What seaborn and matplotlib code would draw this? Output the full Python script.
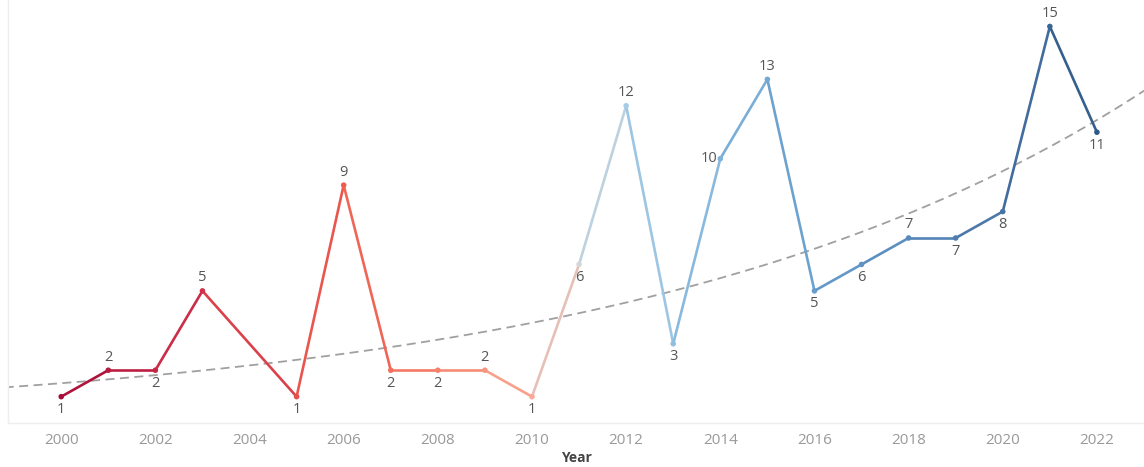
import numpy as np
import pandas as pd
import matplotlib
matplotlib.use("Agg")
import matplotlib.pyplot as plt
from matplotlib.colors import LinearSegmentedColormap
import seaborn as sns

# Data (2004 has no value)
YEARS = [2000, 2001, 2002, 2003, 2005, 2006, 2007, 2008, 2009, 2010, 2011,
         2012, 2013, 2014, 2015, 2016, 2017, 2018, 2019, 2020, 2021, 2022]
COUNTS = [1, 2, 2, 5, 1, 9, 2, 2, 2, 1, 6,
          12, 3, 10, 13, 5, 6, 7, 7, 8, 15, 11]
# where each value label sits relative to its point
LABEL_POS = ['below', 'above', 'below', 'above', 'below', 'above', 'below',
             'below', 'above', 'below', 'below', 'above', 'below', 'left',
             'above', 'below', 'below', 'above', 'below', 'below', 'above',
             'below']
XTICKS = list(range(2000, 2023, 2))

# Tableau-like red-blue diverging ramp (position along 2000..2022, colour)
RAMP = [(0 / 22, '#a90c38'), (3 / 22, '#d2334a'), (6 / 22, '#ee5d4f'),
        (8 / 22, '#f4826c'), (10 / 22, '#f9aa96'), (11 / 22, '#d6d6d6'),
        (12 / 22, '#a5cce6'), (14 / 22, '#80b3da'), (16 / 22, '#679dcc'),
        (18 / 22, '#5889bb'), (20 / 22, '#4873a5'), (22 / 22, '#2e5a87')]

df = pd.DataFrame({'Year': YEARS, 'Count': COUNTS})

sns.set_theme(style="white")
plt.rcParams['font.family'] = ['Open Sans', 'DejaVu Sans']

fig = plt.figure(figsize=(11.44, 4.67), dpi=100)
ax = fig.add_axes([0.007, 0.094, 0.993, 0.906])

cmap = LinearSegmentedColormap.from_list('rdbu_tab', RAMP)


def year_color(y):
    return np.array(cmap((y - 2000) / 22.0))


# exponential trend line fitted on the data
b, a = np.polyfit(df['Year'], np.log(df['Count']), 1)
tx = np.linspace(1998.8, 2023.1, 200)
trend = pd.DataFrame({'Year': tx, 'Trend': np.exp(a + b * tx)})
sns.lineplot(data=trend, x='Year', y='Trend', ax=ax, color='#a0a0a0',
             linewidth=1.3, linestyle=(0, (5, 3)), zorder=1)

# line segments coloured by year
for i in range(len(df) - 1):
    seg = df.iloc[i:i + 2]
    c = (year_color(seg['Year'].iloc[0]) + year_color(seg['Year'].iloc[1])) / 2
    sns.lineplot(data=seg, x='Year', y='Count', ax=ax, color=c,
                 linewidth=1.9, zorder=2)

sns.scatterplot(data=df, x='Year', y='Count', ax=ax, hue='Year',
                palette={y: year_color(y) for y in YEARS}, s=16,
                edgecolor='none', legend=False, zorder=3)

for yr, val, pos in zip(YEARS, COUNTS, LABEL_POS):
    if pos == 'above':
        ax.annotate(str(val), (yr, val), xytext=(0, 4), textcoords='offset points',
                    ha='center', va='bottom', fontsize=10.5, color='#555555')
    elif pos == 'below':
        ax.annotate(str(val), (yr, val), xytext=(0, -4), textcoords='offset points',
                    ha='center', va='top', fontsize=10.5, color='#555555')
    else:
        ax.annotate(str(val), (yr, val), xytext=(-2, 0), textcoords='offset points',
                    ha='right', va='center', fontsize=10.5, color='#555555')

ax.set_xlim(1998.87, 2023.0)
ax.set_ylim(0, 16)
ax.set_xticks(XTICKS)
ax.set_xticklabels([str(t) for t in XTICKS], fontsize=11, color='#999999')
ax.set_yticks([])
ax.tick_params(axis='x', length=0, pad=7)
ax.set_xlabel('Year', fontsize=10, fontweight='bold', color='#444444', labelpad=2)
ax.set_ylabel('')

for side in ['top', 'right']:
    ax.spines[side].set_visible(False)
for side in ['left', 'bottom']:
    ax.spines[side].set_color('#eeeeee')
    ax.spines[side].set_linewidth(1)

fig.savefig('out.png', dpi=100)
